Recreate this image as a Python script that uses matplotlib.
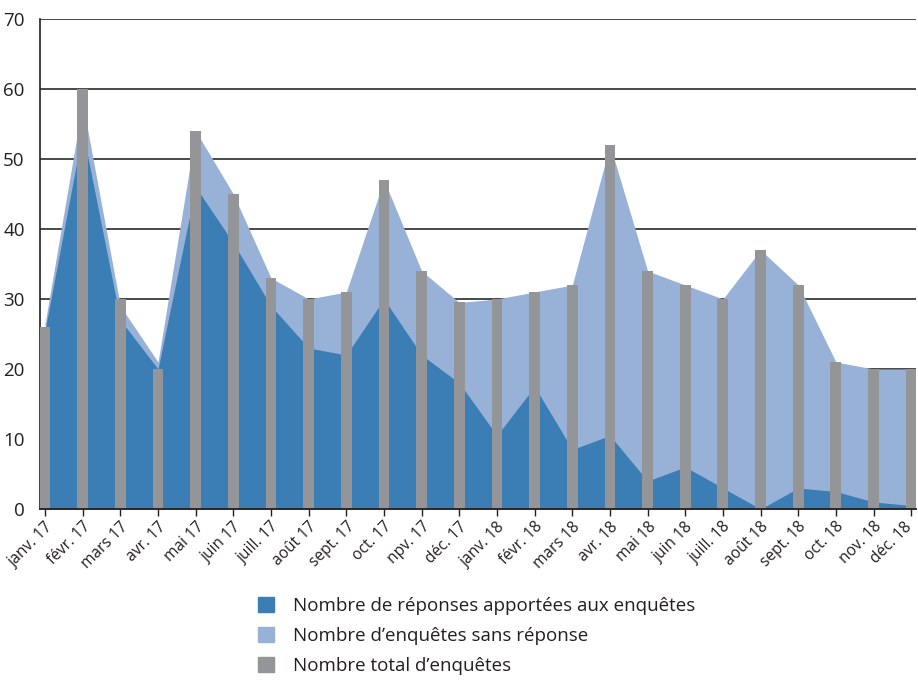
import numpy as np
import matplotlib
matplotlib.use("Agg")
import matplotlib.pyplot as plt
from matplotlib.patches import Patch
from matplotlib.transforms import ScaledTranslation

plt.rcParams['font.family'] = ['Open Sans', 'DejaVu Sans']

mois = ["janv. 17", "févr. 17", "mars 17", "avr. 17", "mai 17", "juin 17",
        "juill. 17", "août 17", "sept. 17", "oct. 17", "npv. 17", "déc. 17",
        "janv. 18", "févr. 18", "mars 18", "avr. 18", "mai 18", "juin 18",
        "juill. 18", "août 18", "sept. 18", "oct. 18", "nov. 18", "déc. 18"]

# nombre total d'enquetes (barres)
total = [26, 60, 30, 20, 54, 45, 33, 30, 31, 47, 34, 29.5,
         30, 31, 32, 52, 34, 32, 30, 37, 32, 21, 20, 20]
# reponses apportees (aire foncee)
reponses = [25.5, 54, 27, 20, 46, 38, 29, 23, 22, 30, 22, 18,
            10.5, 17.5, 8.5, 10.5, 4, 6, 3, 0, 3, 2.5, 1, 0.5]
# enquetes sans reponse (aire claire, empilee)
sans_reponse = [1, 4, 2, 1, 8, 7, 4, 7, 9, 17, 12, 11.5,
                19.5, 13.5, 23.5, 41.5, 30, 26, 27, 37, 29, 18.5, 19, 19.5]

c_fonce = "#3b7db5"
c_clair = "#97b2d6"
c_gris = "#939598"
c_texte = "#231f20"

x = np.arange(len(mois))
rep = np.array(reponses)
haut = rep + np.array(sans_reponse)

fig = plt.figure(figsize=(9.18, 6.81), dpi=100)
ax = fig.add_axes([0.0436, 0.2526, 0.9544, 0.7195])

ax.fill_between(x, 0, haut, color=c_clair, lw=0, zorder=2)
ax.fill_between(x, 0, rep, color=c_fonce, lw=0, zorder=3)
ax.bar(x, total, width=0.29, color=c_gris, zorder=4)

ax.set_ylim(0, 70)
ax.set_xlim(-0.133, 23.13)
ax.set_yticks(range(0, 71, 10))
ax.yaxis.grid(True, color="#3a3a3a", lw=1.3)
ax.set_axisbelow(True)
for s in ["top", "right"]:
    ax.spines[s].set_visible(False)
ax.spines["left"].set_color(c_texte)
ax.spines["left"].set_linewidth(1.2)
ax.spines["bottom"].set_color(c_texte)
ax.spines["bottom"].set_linewidth(1.3)
ax.spines["bottom"].set_zorder(5)

ax.tick_params(axis="y", length=0, pad=11, labelsize=13.5, labelcolor=c_texte)
ax.tick_params(axis="x", length=5, width=1, color=c_texte, pad=2,
               labelsize=11.2, labelcolor=c_texte)
ax.set_xticks(x)
ax.set_xticklabels(mois, rotation=45, ha="right", rotation_mode="anchor")
# the last label touches the right edge: nudge it a little to the left
dernier = ax.get_xticklabels()[-1]
dernier.set_transform(dernier.get_transform()
                      + ScaledTranslation(-5 / 72, 0, fig.dpi_scale_trans))

handles = [Patch(color=c_fonce), Patch(color=c_clair), Patch(color=c_gris)]
labels = ["Nombre de réponses apportées aux enquêtes",
          "Nombre d\u2019enquêtes sans réponse",
          "Nombre total d\u2019enquêtes"]
fig.legend(handles, labels, loc="upper left", bbox_to_anchor=(0.271, 0.137),
           frameon=False, fontsize=13.5, handlelength=0.85, handleheight=0.85,
           handletextpad=1.0, labelspacing=0.65, borderpad=0,
           labelcolor=c_texte)

fig.savefig("out.png", dpi=100)
